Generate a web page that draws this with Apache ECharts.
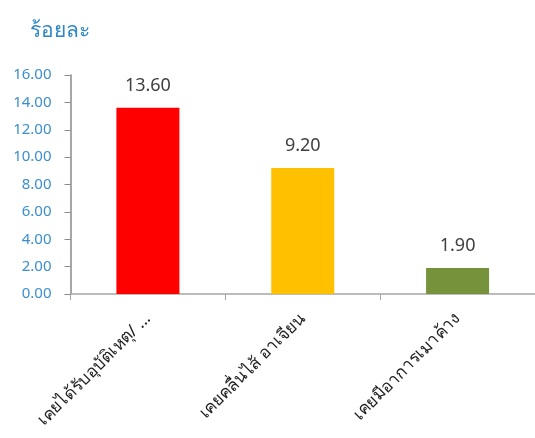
<!DOCTYPE html>
<html>
<head>
<meta charset="utf-8">
<script src="https://cdn.jsdelivr.net/npm/echarts@6/dist/echarts.min.js"></script>
<style>
  html, body { margin: 0; padding: 0; background: #fff; }
  #chart { width: 535px; height: 438px; }
</style>
</head>
<body>
<div id="chart"></div>
<script>
// Categories, values and bar colours
const categories = ['เคยได้รับอุบัติเหตุ/ ...', 'เคยคลื่นไส้ อาเจียน', 'เคยมีอาการเมาค้าง'];
const values = [13.60, 9.20, 1.90];
const barColors = ['#ff0000', '#ffc000', '#76933c'];
const yTicks = { min: 0, max: 16, interval: 2 };

const chart = echarts.init(document.getElementById('chart'));
const font = '"Noto Sans", Tahoma, "DejaVu Sans", sans-serif';

chart.setOption({
  animation: false,
  title: {
    text: 'ร้อยละ',
    left: 25,
    top: 16,
    textStyle: { color: '#2e86c8', fontSize: 21, fontWeight: 'normal', fontFamily: font }
  },
  grid: { left: 70.5, right: -4.5, top: 75, bottom: 144 },
  xAxis: {
    type: 'category',
    data: categories,
    axisLine: { lineStyle: { color: '#a6a6a6', width: 1.5 } },
    axisTick: { show: true, length: 6, lineStyle: { color: '#a6a6a6' } },
    axisLabel: {
      rotate: 45,
      interval: 0,
      margin: 22,
      color: '#222',
      fontSize: 17,
      fontFamily: font
    }
  },
  yAxis: {
    type: 'value',
    min: yTicks.min,
    max: yTicks.max,
    interval: yTicks.interval,
    splitLine: { show: false },
    axisLine: { show: true, lineStyle: { color: '#898989', width: 1.5 } },
    axisTick: { show: true, length: 6, lineStyle: { color: '#898989' } },
    axisLabel: {
      color: '#3a8fd0',
      fontSize: 15,
      margin: 19,
      fontFamily: font,
      formatter: v => v.toFixed(2)
    }
  },
  series: [{
    type: 'bar',
    barWidth: 63,
    data: values.map((v, i) => ({ value: v, itemStyle: { color: barColors[i] } })),
    label: {
      show: true,
      position: 'top',
      distance: 13,
      color: '#404040',
      fontSize: 18,
      fontFamily: font,
      formatter: p => p.value.toFixed(2)
    }
  }]
});
</script>
</body>
</html>
